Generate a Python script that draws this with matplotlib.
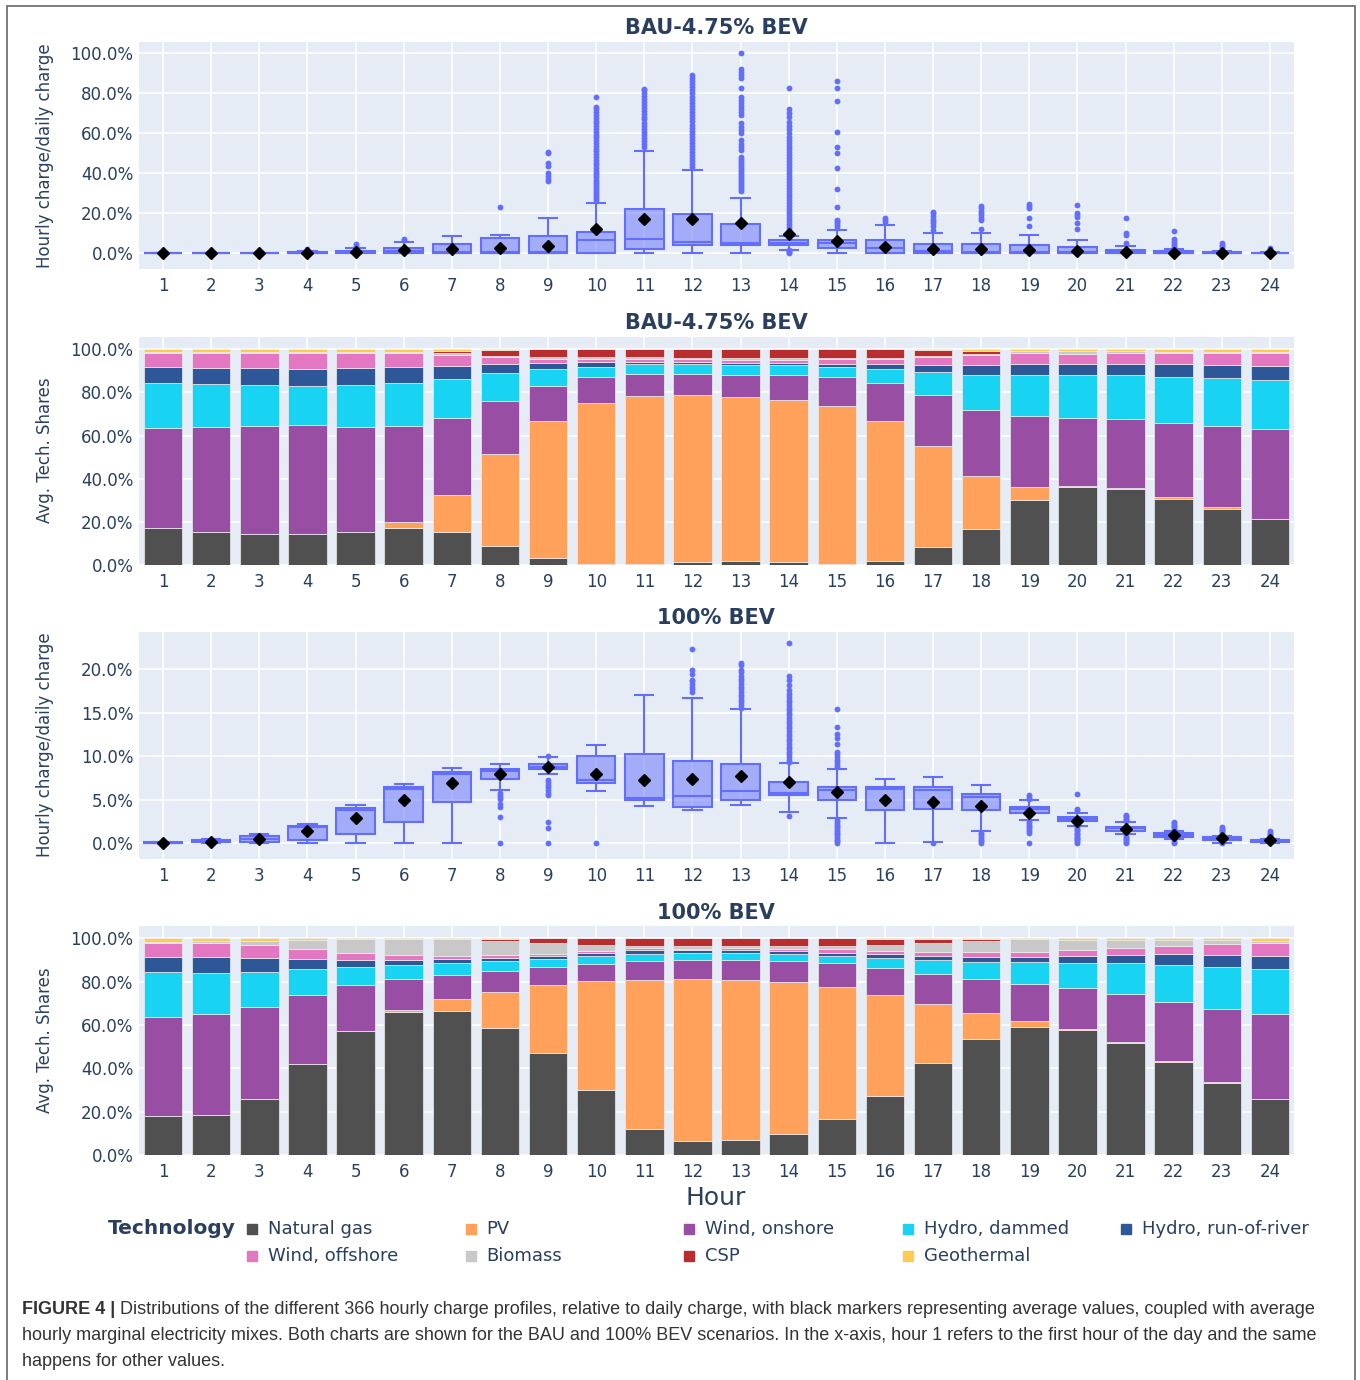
import matplotlib.pyplot as plt
import numpy as np
from matplotlib.lines import Line2D
from matplotlib.patches import Rectangle
from matplotlib.ticker import FuncFormatter

W, H = 1360, 1380
HOURS = list(range(1, 25))

TECHS = ['Natural gas', 'PV', 'Wind, onshore', 'Hydro, dammed', 'Hydro, run-of-river',
         'Wind, offshore', 'Biomass', 'CSP', 'Geothermal']
TECH_COLORS = ['#505050', '#FFA15A', '#984EA3', '#19D3F3', '#2E5797',
               '#E377C2', '#C8C8C8', '#B82E2E', '#FECB52']

# ---- BAU-4.75% BEV: upper edge (%) of each technology in the stacked bar ----
bau_gas = [17.3, 15.1, 14.5, 14.2, 15.1, 17.2, 15.1, 8.8, 3.4, 0.3, 0.3, 1.2,
           1.9, 1.2, 0.6, 2.0, 8.2, 16.8, 30.1, 36.0, 35.1, 30.8, 26.1, 21.3]
bau_pv = [17.3, 15.1, 14.5, 14.2, 15.1, 19.8, 32.5, 51.5, 66.8, 75.0, 78.2, 78.7,
          77.9, 76.5, 73.6, 66.6, 55.0, 41.1, 36.3, 36.8, 35.5, 31.4, 26.7, 21.5]
bau_won = [63.7, 64.0, 64.5, 64.8, 64.1, 64.5, 68.3, 76.2, 83.2, 87.0, 88.4, 88.7,
           88.3, 87.9, 87.2, 84.5, 79.0, 72.0, 69.1, 68.3, 67.5, 65.8, 64.3, 63.2]
bau_hdam = [84.5, 83.8, 83.5, 83.0, 83.3, 84.5, 86.2, 88.9, 90.9, 92.0, 93.0, 93.2,
            92.7, 92.6, 92.0, 90.9, 89.5, 88.1, 87.9, 87.9, 87.9, 87.3, 86.6, 85.6]
bau_hror = [92.0, 91.5, 91.2, 91.0, 91.2, 91.7, 92.3, 93.0, 93.5, 94.1, 94.3, 94.2,
            93.7, 93.5, 93.0, 93.2, 92.9, 92.7, 93.0, 93.0, 93.4, 93.4, 92.9, 92.4]
bau_woff = [98.3, 98.3, 98.3, 98.3, 98.3, 98.3, 97.4, 96.6, 95.5, 95.4, 95.4, 95.4,
            95.1, 95.1, 95.4, 95.4, 96.3, 97.4, 98.1, 97.8, 98.1, 98.1, 98.3, 98.3]
bau_bio = [98.6, 98.6, 98.6, 98.6, 98.6, 98.6, 98.1, 97.1, 96.3, 96.2, 96.2, 95.9,
           95.9, 95.9, 95.9, 96.1, 96.9, 97.8, 99.4, 99.4, 99.0, 98.7, 98.7, 98.7]
bau_csp = [98.6, 98.6, 98.6, 98.6, 98.6, 98.6, 99.4, 99.7, 100, 100, 100, 100,
           100, 100, 100, 100, 99.7, 99.4, 99.4, 99.4, 99.0, 98.7, 98.7, 98.7]

# ---- 100% BEV ----
bev_gas = [18.0, 18.6, 25.8, 41.8, 57.4, 66.0, 66.6, 58.8, 47.1, 29.8, 11.8, 6.6,
           6.8, 9.8, 16.8, 27.4, 42.3, 53.7, 58.9, 57.7, 51.5, 42.8, 33.4, 26.0]
bev_pv = [18.0, 18.6, 25.8, 41.8, 57.4, 67.1, 72.2, 75.1, 78.3, 80.2, 80.6, 81.1,
          80.8, 79.7, 77.5, 73.7, 69.5, 65.7, 62.0, 58.2, 52.0, 43.2, 33.8, 26.0]
bev_won = [63.8, 65.2, 68.3, 73.8, 78.5, 81.4, 82.9, 84.8, 86.6, 88.3, 89.5, 90.0,
           90.0, 89.7, 88.6, 86.5, 83.7, 81.1, 79.1, 76.9, 74.3, 70.8, 67.2, 65.1]
bev_hdam = [84.3, 83.8, 84.3, 85.7, 86.9, 87.8, 88.5, 89.4, 90.5, 91.8, 92.6, 93.1,
            93.1, 92.6, 91.8, 90.8, 89.8, 89.2, 88.9, 88.8, 88.6, 87.8, 86.9, 85.7]
bev_hror = [91.5, 91.2, 90.9, 90.5, 90.0, 90.0, 90.3, 91.1, 91.7, 93.2, 94.6, 94.5,
            94.5, 94.2, 93.4, 92.6, 91.8, 91.5, 91.5, 91.8, 92.3, 92.6, 92.3, 92.0]
bev_woff = [98.0, 98.0, 96.9, 95.1, 93.1, 92.3, 91.8, 92.2, 92.8, 94.0, 95.4, 95.2,
            95.4, 95.1, 95.0, 94.2, 93.7, 93.5, 93.8, 94.5, 95.7, 96.6, 97.4, 97.7]
bev_bio = [98.5, 98.6, 98.8, 99.2, 99.5, 99.7, 99.7, 98.8, 98.0, 97.1, 96.6, 96.5,
           96.5, 96.5, 96.6, 97.1, 98.0, 98.9, 99.5, 99.4, 99.2, 99.2, 99.1, 98.9]
bev_csp = [98.5, 98.6, 98.8, 99.2, 99.5, 99.7, 99.7, 99.8, 100, 100, 100, 100,
           100, 100, 100, 99.8, 99.7, 99.5, 99.5, 99.4, 99.2, 99.2, 99.1, 98.9]

# ---- hourly charge / daily charge box stats (%) ----
bau_lo = [0, 0, 0, 0, 0, 0, 0, 0, 0, 0, 0, 0, 0, 1.8, 0, 0, 0, 0, 0, 0, 0, 0, 0, 0]
bau_q1 = [0, 0, 0, 0.05, 0.1, 0.2, 0.2, 0.1, 0.1, 0.2, 2.3, 4.0,
          4.1, 4.3, 2.5, 0.2, 0.1, 0.1, 0.1, 0.1, 0.05, 0.02, 0, 0]
bau_med = [0.05, 0.05, 0.1, 0.2, 0.5, 1.2, 0.8, 0.5, 0.6, 6.8, 7.0, 5.8,
           5.0, 5.3, 5.0, 2.5, 1.0, 0.8, 0.8, 0.8, 0.5, 0.2, 0.1, 0.05]
bau_q3 = [0.2, 0.2, 0.3, 0.5, 1.3, 2.8, 4.7, 7.7, 8.7, 10.5, 22.3, 19.7,
          14.7, 6.5, 6.7, 6.7, 4.8, 4.5, 4.0, 3.0, 1.8, 1.0, 0.5, 0.3]
bau_hi = [0.3, 0.3, 0.4, 1.1, 2.5, 5.8, 8.5, 9.0, 17.8, 25.3, 51.3, 41.7,
          27.5, 8.5, 11.8, 14.3, 10.0, 10.2, 9.3, 6.7, 3.5, 2.2, 1.0, 0.5]
bau_mean = [0.05, 0.05, 0.1, 0.35, 0.7, 1.5, 2.2, 2.5, 3.8, 12.2, 17.3, 17.0,
            15.3, 9.6, 6.0, 3.2, 2.3, 2.0, 1.7, 1.3, 0.8, 0.4, 0.2, 0.1]
bau_fliers = [
    [], [], [], [2.0], [3.7, 4.7], [6.7, 7.3], [], [23.0],
    [36.0, 37.2, 38.8, 40.0, 43.8, 45.0, 50.3, 50.8],
    [26.5, 27.5, 28.5, 29.5, 30.5, 31.5, 32.5, 33.5, 34.5, 35.5, 36.5, 38.0, 39.0,
     40.0, 41.0, 42.5, 44.0, 45.0, 46.5, 48.0, 49.5, 51.0, 52.0, 53.5, 55.0, 56.5,
     58.0, 59.0, 60.5, 62.0, 63.5, 65.0, 66.0, 67.5, 69.0, 70.5, 72.0, 73.0, 78.2],
    [53.0, 54.5, 56.0, 57.5, 59.0, 60.5, 62.0, 63.5, 65.0, 67.0, 68.0, 69.5, 71.0,
     72.5, 74.0, 75.5, 77.0, 78.5, 80.0, 81.5, 82.0],
    [43.0, 44.5, 46.0, 47.5, 49.0, 50.5, 52.0, 53.5, 55.0, 56.5, 58.0, 59.5, 61.0,
     62.5, 64.0, 66.0, 67.5, 69.0, 70.5, 72.0, 73.5, 75.0, 76.5, 78.0, 80.0, 81.5,
     83.0, 84.5, 86.0, 87.5, 89.0],
    [31.0, 32.0, 33.0, 34.0, 35.0, 36.0, 37.0, 38.0, 39.0, 40.0, 41.0, 42.0, 43.0,
     44.0, 45.0, 46.0, 47.0, 48.0, 51.7, 53.0, 54.5, 56.5, 60.0, 61.5, 63.0, 65.0,
     69.0, 70.5, 72.0, 73.5, 75.0, 76.5, 78.0, 82.5, 87.5, 89.0, 90.5, 92.0, 100.0],
    [0.0, 0.5, 1.0, 1.5, 10.0, 11.5, 13.0, 14.5, 16.0, 17.5, 19.0, 20.5, 22.0, 23.5,
     25.0, 26.5, 28.0, 29.5, 31.0, 32.5, 34.0, 35.5, 37.0, 38.5, 40.0, 41.5, 43.0,
     44.5, 46.0, 47.5, 49.0, 50.5, 52.0, 53.5, 55.0, 56.5, 58.0, 60.0, 62.0, 63.5,
     65.5, 68.0, 70.0, 72.0, 82.5],
    [13.3, 14.2, 15.0, 16.0, 16.7, 23.0, 32.0, 42.8, 50.0, 53.3, 60.5, 76.3, 82.5, 86.2],
    [15.8, 16.7, 17.5],
    [11.7, 13.5, 15.0, 16.0, 17.0, 18.5, 20.0, 20.8],
    [12.0, 16.7, 17.8, 19.0, 20.0, 21.0, 22.5, 23.7],
    [13.8, 17.8, 22.5, 23.5, 24.5],
    [12.3, 15.3, 18.3, 19.3, 20.0, 24.3],
    [5.0, 9.2, 10.0, 17.5],
    [3.3, 4.3, 5.3, 6.2, 7.0, 11.3],
    [2.5, 3.5, 4.4, 5.3],
    [2.5],
]

bev_lo = [0, 0, 0, 0, 0, 0, 0, 6.05, 8.0, 6.0, 4.25, 3.85,
          4.4, 3.6, 2.9, 0, 0.1, 1.4, 2.7, 2.0, 1.0, 0.45, 0.05, 0]
bev_q1 = [0.02, 0.1, 0.1, 0.4, 1.0, 2.45, 4.7, 7.4, 8.5, 6.9, 4.9, 4.2,
          4.9, 5.5, 4.9, 3.8, 3.9, 3.8, 3.5, 2.5, 1.4, 0.7, 0.3, 0.15]
bev_med = [0.05, 0.2, 0.5, 1.85, 3.8, 6.2, 8.0, 8.3, 8.8, 7.2, 5.2, 5.4,
           6.0, 5.8, 6.1, 6.25, 6.1, 5.3, 3.95, 2.8, 1.7, 0.95, 0.45, 0.25]
bev_q3 = [0.1, 0.35, 0.8, 2.0, 4.0, 6.4, 8.2, 8.5, 9.1, 10.0, 10.3, 9.5,
          9.1, 7.05, 6.4, 6.5, 6.5, 5.6, 4.2, 3.0, 1.9, 1.15, 0.65, 0.35]
bev_hi = [0.15, 0.45, 1.0, 2.2, 4.4, 6.8, 8.6, 9.1, 9.9, 11.3, 17.1, 16.7,
          15.4, 9.2, 8.5, 7.4, 7.55, 6.7, 4.9, 3.5, 2.4, 1.4, 0.8, 0.5]
bev_mean = [0.05, 0.15, 0.5, 1.4, 2.9, 5.0, 6.9, 8.0, 8.7, 8.0, 7.2, 7.4,
            7.7, 7.0, 5.9, 4.9, 4.7, 4.3, 3.45, 2.5, 1.6, 0.95, 0.55, 0.35]
bev_fliers = [
    [], [], [], [], [], [], [],
    [0.0, 3.0, 4.2, 4.5, 5.1, 5.3, 5.5, 5.75],
    [0.0, 1.7, 2.4, 5.55, 5.8, 6.1, 6.4, 6.7, 7.0, 7.3, 10.0],
    [0.0],
    [],
    [17.4, 17.7, 18.0, 18.3, 18.6, 18.8, 19.5, 19.9, 22.3],
    [15.6, 15.9, 16.2, 16.5, 16.8, 17.1, 17.4, 17.7, 18.0, 18.3, 18.6, 18.9, 19.2,
     19.7, 19.9, 20.5, 20.7],
    [3.14, 9.3, 9.6, 9.9, 10.2, 10.5, 10.8, 11.1, 11.4, 11.7, 12.0, 12.3, 12.6,
     12.9, 13.2, 13.5, 13.8, 14.1, 14.4, 14.7, 15.0, 15.3, 15.6, 15.9, 16.2, 16.5,
     16.8, 17.2, 17.6, 18.2, 18.8, 19.2, 23.06],
    [0.0, 0.2, 0.4, 0.6, 0.8, 1.0, 1.2, 1.4, 1.6, 1.8, 2.0, 2.2, 2.4, 2.6,
     8.7, 9.0, 9.3, 9.6, 9.9, 10.2, 10.5, 11.4, 12.1, 12.6, 13.4, 15.4],
    [],
    [0.0],
    [0.0, 0.2, 0.4, 0.6, 0.8, 1.0, 1.15],
    [0.0, 1.2, 1.4, 1.6, 1.8, 2.0, 2.2, 2.4, 5.1, 5.3, 5.55],
    [0.0, 0.15, 0.3, 0.45, 0.6, 0.75, 0.9, 1.05, 1.2, 1.35, 1.5, 1.65, 1.8,
     3.8, 3.95, 5.67],
    [0.0, 0.15, 0.3, 0.45, 0.6, 0.75, 0.9, 2.5, 2.65, 2.8, 2.95, 3.1, 3.25],
    [0.0, 0.15, 0.3, 1.5, 1.65, 1.8, 1.95, 2.1, 2.25, 2.4],
    [0.0, 0.9, 1.05, 1.2, 1.35, 1.5, 1.65, 1.8],
    [0.6, 0.75, 0.9, 1.05, 1.2, 1.35],
]

BOX_COLOR = '#636EFA'
TEXT_COLOR = '#2a3f5f'
BG = '#E5ECF6'


def px(x):
    return x / W


def py(y):
    return 1 - y / H


def make_axes(fig, top, bottom):
    ax = fig.add_axes([px(139), py(bottom), px(1294 - 139), (bottom - top) / H])
    ax.set_facecolor(BG)
    for s in ax.spines.values():
        s.set_visible(False)
    ax.set_xlim(0.5, 24.5)
    ax.set_xticks(HOURS)
    ax.grid(True, color='white', linewidth=1.1)
    ax.set_axisbelow(True)
    ax.tick_params(length=0, labelsize=12, labelcolor=TEXT_COLOR)
    ax.tick_params(axis='x', pad=5.5)
    ax.tick_params(axis='y', pad=4)
    ax.yaxis.set_major_formatter(FuncFormatter(lambda v, p: f'{v:.1f}%'))
    return ax


def draw_boxes(ax, lo, q1, med, q3, hi, mean, fliers):
    stats = []
    for i in range(len(HOURS)):
        stats.append(dict(whislo=lo[i], q1=q1[i], med=med[i], q3=q3[i],
                          whishi=hi[i], fliers=np.array(fliers[i]), mean=mean[i]))
    ax.bxp(stats, positions=HOURS, widths=0.8, capwidths=0.38, patch_artist=True,
           manage_ticks=False,
           boxprops=dict(facecolor=(99 / 255, 110 / 255, 250 / 255, 0.5),
                         edgecolor=BOX_COLOR, linewidth=1.5),
           whiskerprops=dict(color=BOX_COLOR, linewidth=1.5),
           capprops=dict(color=BOX_COLOR, linewidth=1.5),
           medianprops=dict(color=BOX_COLOR, linewidth=1.5),
           flierprops=dict(marker='o', markerfacecolor=BOX_COLOR,
                           markeredgecolor='none', markersize=4.2))
    ax.plot(HOURS, mean, linestyle='none', marker='D', color='black',
            markersize=6.5, zorder=6)


def draw_stack(ax, tops):
    bottom = np.zeros(len(HOURS))
    for top, color in zip(tops, TECH_COLORS):
        top = np.array(top, dtype=float)
        ax.bar(HOURS, top - bottom, bottom=bottom, width=0.8, color=color,
               edgecolor='#eeeeee', linewidth=0.5, zorder=3)
        bottom = top


fig = plt.figure(figsize=(W / 100, H / 100), dpi=100)

# panel 1
ax1 = make_axes(fig, 42, 269)
draw_boxes(ax1, bau_lo, bau_q1, bau_med, bau_q3, bau_hi, bau_mean, bau_fliers)
ax1.set_ylim(-7.8, 105.7)
ax1.set_yticks([0, 20, 40, 60, 80, 100])

# panel 2
ax2 = make_axes(fig, 337, 565)
draw_stack(ax2, [bau_gas, bau_pv, bau_won, bau_hdam, bau_hror, bau_woff, bau_bio,
                 bau_csp, [100] * 24])
ax2.set_ylim(0, 105.7)
ax2.set_yticks([0, 20, 40, 60, 80, 100])

# panel 3
ax3 = make_axes(fig, 632, 859)
draw_boxes(ax3, bev_lo, bev_q1, bev_med, bev_q3, bev_hi, bev_mean, bev_fliers)
ax3.set_ylim(-1.84, 24.3)
ax3.set_yticks([0, 5, 10, 15, 20])

# panel 4
ax4 = make_axes(fig, 926, 1155)
draw_stack(ax4, [bev_gas, bev_pv, bev_won, bev_hdam, bev_hror, bev_woff, bev_bio,
                 bev_csp, [100] * 24])
ax4.set_ylim(0, 105.7)
ax4.set_yticks([0, 20, 40, 60, 80, 100])

# titles and axis labels
for y, t in [(28, 'BAU-4.75% BEV'), (323, 'BAU-4.75% BEV'),
             (618, '100% BEV'), (913, '100% BEV')]:
    fig.text(px(716), py(y), t, ha='center', va='center', fontsize=15,
             fontweight='bold', color=TEXT_COLOR)
for y, t in [(156, 'Hourly charge/daily charge'), (450, 'Avg. Tech. Shares'),
             (745, 'Hourly charge/daily charge'), (1040, 'Avg. Tech. Shares')]:
    fig.text(px(45), py(y), t, ha='center', va='center', rotation=90,
             fontsize=12, color=TEXT_COLOR)
fig.text(px(716), py(1198), 'Hour', ha='center', va='center', fontsize=18,
         color=TEXT_COLOR)

# legend
fig.text(px(236), py(1229), 'Technology', ha='right', va='center', fontsize=14.5,
         fontweight='bold', color=TEXT_COLOR)
for i, (name, color) in enumerate(zip(TECHS, TECH_COLORS)):
    row, col = divmod(i, 5)
    x0 = 252 + col * 218.6
    y0 = 1229 + row * 27
    fig.add_artist(Line2D([px(x0)], [py(y0)], marker='s', markersize=6.5,
                          color=color, linestyle='none', transform=fig.transFigure))
    fig.text(px(x0 + 16), py(y0), name, ha='left', va='center', fontsize=13,
             color=TEXT_COLOR)

# frame
fig.add_artist(Rectangle((px(7), -0.02), px(1355 - 7), py(6) + 0.02, fill=False,
                         edgecolor='#666666', linewidth=1.2, transform=fig.transFigure))

# caption
cap_font = ['Liberation Sans', 'DejaVu Sans']
cap1 = ('Distributions of the different 366 hourly charge profiles, relative to daily '
        'charge, with black markers representing average values, coupled with average')
cap2 = ('hourly marginal electricity mixes. Both charts are shown for the BAU and 100% '
        'BEV scenarios. In the x-axis, hour 1 refers to the first hour of the day and the same')
cap3 = 'happens for other values.'
renderer = fig.canvas.get_renderer()
probe = fig.text(px(22), py(1336), cap2, fontsize=12, family=cap_font)
w = probe.get_window_extent(renderer=renderer).width
cap_size = 12 * (1318 - 22) / w
probe.remove()

t0 = fig.text(px(22), py(1310), 'FIGURE 4 |', ha='left', va='center',
              fontsize=cap_size, fontweight='bold', family=cap_font, color='#333333')
bb = t0.get_window_extent(renderer=renderer)
fig.text((bb.x1 + 5) / W, py(1310), cap1, ha='left', va='center',
         fontsize=cap_size, family=cap_font, color='#333333')
fig.text(px(22), py(1336), cap2, ha='left', va='center', fontsize=cap_size,
         family=cap_font, color='#333333')
fig.text(px(22), py(1361), cap3, ha='left', va='center', fontsize=cap_size,
         family=cap_font, color='#333333')

fig.savefig('out.png', dpi=100)
